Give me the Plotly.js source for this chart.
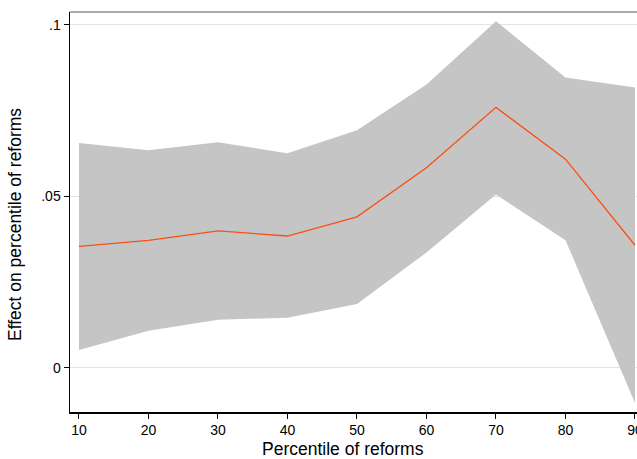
<!DOCTYPE html>
<html>
<head>
<meta charset="utf-8">
<script src="https://cdn.plot.ly/plotly-3.0.1.min.js"></script>
<style>html,body{margin:0;padding:0;background:#fff;}#chart{width:637px;height:459px;}</style>
</head>
<body>
<div id="chart"></div>
<script>
const percentiles = [10, 20, 30, 40, 50, 60, 70, 80, 90];
const effect = [0.0354, 0.0371, 0.0399, 0.0384, 0.0440, 0.0583, 0.0759, 0.0608, 0.0357];
const upperCI = [0.0655, 0.0634, 0.0657, 0.0625, 0.0692, 0.0826, 0.1010, 0.0846, 0.0817];
const lowerCI = [0.0052, 0.0108, 0.0140, 0.0146, 0.0186, 0.0336, 0.0505, 0.0372, -0.0103];
const yTickVals = [0, 0.05, 0.1];
const yTickText = ['0', '.05', '.1'];
const xTickVals = [10, 20, 30, 40, 50, 60, 70, 80, 90];
const xTitle = 'Percentile of reforms';
const yTitle = 'Effect on percentile of reforms';

const traces = [
  {x: percentiles, y: lowerCI, type: 'scatter', mode: 'lines', line: {width: 0, color: '#c4c4c4'}, hoverinfo: 'skip', showlegend: false},
  {x: percentiles, y: upperCI, type: 'scatter', mode: 'lines', line: {width: 0, color: '#c4c4c4'}, fill: 'tonexty', fillcolor: '#c5c5c5', hoverinfo: 'skip', showlegend: false},
  {x: percentiles, y: effect, type: 'scatter', mode: 'lines', line: {width: 1.3, color: '#fb4f14'}, showlegend: false}
];

const layout = {
  width: 637, height: 459,
  margin: {l: 70, r: 0, t: 12, b: 47},
  paper_bgcolor: '#ffffff', plot_bgcolor: '#ffffff',
  font: {family: 'Liberation Sans, Arial, sans-serif', size: 14, color: '#000'},
  showlegend: false,
  xaxis: {
    range: [8.71, 90.29],
    tickvals: xTickVals,
    ticks: 'outside', ticklen: 5, tickwidth: 1, tickcolor: '#000',
    ticklabeloverflow: 'allow',
    showgrid: false, zeroline: false,
    showline: true, linecolor: '#000', linewidth: 1.5, mirror: false,
    tickfont: {size: 14}
  },
  yaxis: {
    range: [-0.0129, 0.1037],
    tickvals: yTickVals, ticktext: yTickText,
    ticks: 'outside', ticklen: 5, tickwidth: 1, tickcolor: '#000',
    showgrid: true, gridcolor: '#e3e3e3', gridwidth: 1,
    zeroline: false,
    showline: true, linecolor: '#000', linewidth: 1.5,
    tickfont: {size: 14}
  },
  annotations: [
    {text: xTitle, xref: 'paper', yref: 'paper', x: 0.4815, y: -0.092, xanchor: 'center', yanchor: 'middle', showarrow: false, font: {size: 17.5}},
    {text: yTitle, xref: 'paper', yref: 'paper', x: -0.097, y: 0.4675, xanchor: 'center', yanchor: 'middle', textangle: -90, showarrow: false, font: {size: 17.5}}
  ],
  shapes: [
    {type: 'line', xref: 'paper', yref: 'paper', x0: 0, x1: 1, y0: 1, y1: 1, line: {color: '#555', width: 1.2}}
  ]
};

Plotly.newPlot('chart', traces, layout, {staticPlot: true, displayModeBar: false});
</script>
</body>
</html>
